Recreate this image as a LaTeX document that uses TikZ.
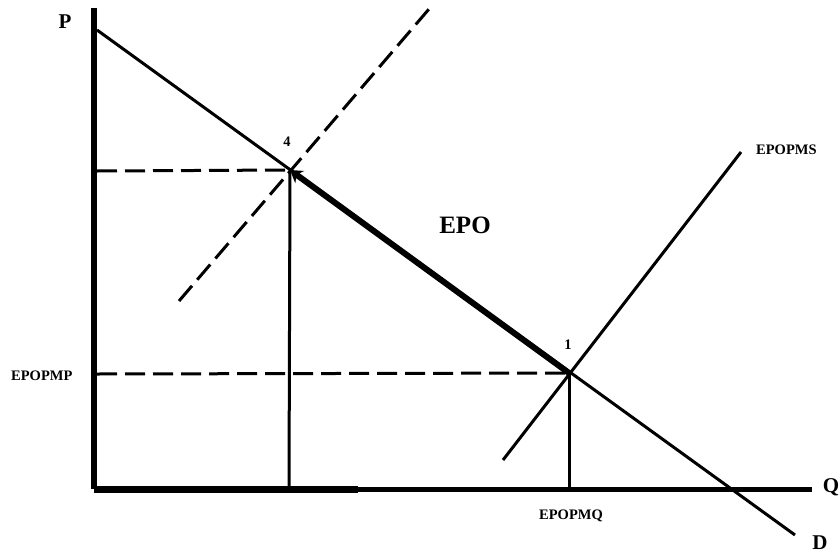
\documentclass[tikz,border=0pt]{standalone}
\usepackage{fontspec}
\setmainfont{Liberation Serif}
\usetikzlibrary{arrows.meta}
\begin{document}
\begin{tikzpicture}[x=1pt,y=-1pt,
  thinline/.style={line width=3pt},
  dashline/.style={line width=3pt,dash pattern=on 20pt off 8pt},
  axisline/.style={line width=6pt},
  lbl/.style={font=\bfseries\fontsize{14.5}{14.5}\selectfont,inner sep=0pt},
  biglbl/.style={font=\bfseries\fontsize{21}{21}\selectfont,inner sep=0pt}]
\useasboundingbox (0,0) rectangle (840,554);
% key points
\coordinate (O) at (94,489);
\coordinate (Ytop) at (94,8);
\coordinate (Xend) at (812,489);
\coordinate (Xmid) at (358,489);
\coordinate (Dstart) at (97,30);
\coordinate (Dend) at (795,535);
\coordinate (E4) at (290,170);
\coordinate (E1) at (569,373);
\coordinate (S4a) at (179,301);
\coordinate (S4b) at (429,9);
\coordinate (S1a) at (503,460);
\coordinate (S1b) at (741,152);
\coordinate (Y4) at (97,171);
\coordinate (Y1) at (97,374);
\coordinate (X4) at (289,489);
\coordinate (X1) at (569,489);
% axes
\draw[axisline] (Ytop) -- (O);
\draw[line width=7pt] (O) -- (Xmid);
\draw[line width=5pt] (Xmid) -- (Xend);
% demand
\draw[thinline] (Dstart) -- (Dend);
% supply lines
\draw[dashline] (S4a) -- (S4b);
\draw[thinline] (S1a) -- (S1b);
% guides
\draw[dashline] (Y4) -- (E4);
\draw[dashline] (Y1) -- (E1);
\draw[thinline] (E4) -- (X4);
\draw[thinline] (E1) -- (X1);
% movement arrow
\draw[line width=6pt,-{Stealth[length=12pt,width=15pt]}] (E1) -- (E4);
% labels
\node[biglbl] (lP) at (65,22) {P};
\node[biglbl] (lQ) at (831,487) {Q};
\node[biglbl] (lD) at (820,543) {D};
\node[font=\bfseries\fontsize{25}{25}\selectfont,inner sep=0pt] (lEPO) at (465,225) {EPO};
\node[lbl] (l4) at (287,142) {4};
\node[lbl] (l1) at (568,345) {1};
\node[lbl,anchor=west] (lS) at (756,150) {EPOPMS};
\node[lbl,anchor=west] (lMP) at (11,376) {EPOPMP};
\node[lbl,anchor=west] (lMQ) at (539,516) {EPOPMQ};
\end{tikzpicture}
\end{document}
